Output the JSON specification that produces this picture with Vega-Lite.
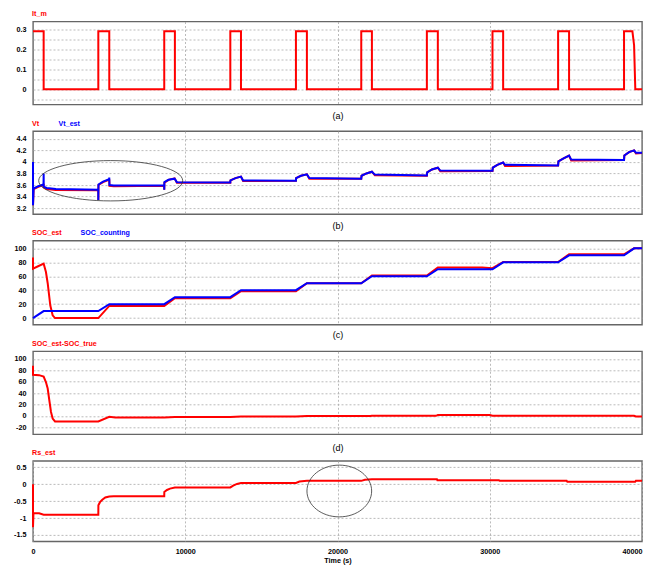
{
  "$schema": "https://vega.github.io/schema/vega-lite/v6.json",
  "padding": {"left": 12, "top": 9.5, "right": 7, "bottom": 1},
  "config": {
    "font": "Liberation Sans",
    "view": {"stroke": "#666", "strokeWidth": 1.4},
    "axis": {"grid": true, "gridColor": "#aaa", "gridDash": [2, 2], "gridWidth": 0.8, "ticks": false, "domain": false, "labelFontSize": 7.2, "labelFontWeight": "bold", "labelColor": "#000"},
    "axisY": {"labelPadding": 7},
    "legend": {"orient": "top", "direction": "horizontal", "title": null, "symbolSize": 0, "symbolOpacity": 0, "symbolStrokeWidth": 0, "labelOffset": -8, "columnPadding": 18.5, "labelFontSize": 7.1, "labelFontWeight": "bold", "offset": 4, "padding": 0},
    "line": {"strokeWidth": 2, "clip": true}
  },
  "datasets": {
    "it": [
      {"t": 0, "v": 0.29, "s": "It_m"}, {"t": 700, "v": 0.29, "s": "It_m"}, {"t": 700, "v": 0, "s": "It_m"},
      {"t": 4290, "v": 0, "s": "It_m"}, {"t": 4290, "v": 0.29, "s": "It_m"}, {"t": 5010, "v": 0.29, "s": "It_m"}, {"t": 5010, "v": 0, "s": "It_m"},
      {"t": 8620, "v": 0, "s": "It_m"}, {"t": 8620, "v": 0.29, "s": "It_m"}, {"t": 9320, "v": 0.29, "s": "It_m"}, {"t": 9320, "v": 0, "s": "It_m"},
      {"t": 12960, "v": 0, "s": "It_m"}, {"t": 12960, "v": 0.29, "s": "It_m"}, {"t": 13660, "v": 0.29, "s": "It_m"}, {"t": 13660, "v": 0, "s": "It_m"},
      {"t": 17270, "v": 0, "s": "It_m"}, {"t": 17270, "v": 0.29, "s": "It_m"}, {"t": 17990, "v": 0.29, "s": "It_m"}, {"t": 17990, "v": 0, "s": "It_m"},
      {"t": 21560, "v": 0, "s": "It_m"}, {"t": 21560, "v": 0.29, "s": "It_m"}, {"t": 22260, "v": 0.29, "s": "It_m"}, {"t": 22260, "v": 0, "s": "It_m"},
      {"t": 25870, "v": 0, "s": "It_m"}, {"t": 25870, "v": 0.29, "s": "It_m"}, {"t": 26590, "v": 0.29, "s": "It_m"}, {"t": 26590, "v": 0, "s": "It_m"},
      {"t": 30180, "v": 0, "s": "It_m"}, {"t": 30180, "v": 0.29, "s": "It_m"}, {"t": 30880, "v": 0.29, "s": "It_m"}, {"t": 30880, "v": 0, "s": "It_m"},
      {"t": 34490, "v": 0, "s": "It_m"}, {"t": 34490, "v": 0.29, "s": "It_m"}, {"t": 35210, "v": 0.29, "s": "It_m"}, {"t": 35210, "v": 0, "s": "It_m"},
      {"t": 38820, "v": 0, "s": "It_m"}, {"t": 38820, "v": 0.29, "s": "It_m"}, {"t": 39370, "v": 0.29, "s": "It_m"}, {"t": 39480, "v": 0.22, "s": "It_m"},
      {"t": 39560, "v": 0, "s": "It_m"}, {"t": 40000, "v": 0, "s": "It_m"}
    ],
    "vt": [
      {"t": 0, "v": 4.0, "s": "Vt"}, {"t": 0, "v": 3.25, "s": "Vt"}, {"t": 40, "v": 3.53, "s": "Vt"}, {"t": 350, "v": 3.57, "s": "Vt"}, {"t": 690, "v": 3.6, "s": "Vt"}, {"t": 700, "v": 3.62, "s": "Vt"}, {"t": 705, "v": 3.56, "s": "Vt"}, {"t": 900, "v": 3.53, "s": "Vt"}, {"t": 1500, "v": 3.515, "s": "Vt"}, {"t": 4290, "v": 3.51, "s": "Vt"},
      {"t": 4290, "v": 3.34, "s": "Vt"}, {"t": 4300, "v": 3.6, "s": "Vt"}, {"t": 4600, "v": 3.65, "s": "Vt"}, {"t": 5000, "v": 3.69, "s": "Vt"}, {"t": 5010, "v": 3.7, "s": "Vt"}, {"t": 5020, "v": 3.585, "s": "Vt"}, {"t": 5300, "v": 3.58, "s": "Vt"}, {"t": 8620, "v": 3.587, "s": "Vt"},
      {"t": 8620, "v": 3.52, "s": "Vt"}, {"t": 8630, "v": 3.64, "s": "Vt"}, {"t": 8900, "v": 3.69, "s": "Vt"}, {"t": 9300, "v": 3.715, "s": "Vt"}, {"t": 9450, "v": 3.64, "s": "Vt"}, {"t": 12960, "v": 3.64, "s": "Vt"},
      {"t": 12970, "v": 3.68, "s": "Vt"}, {"t": 13300, "v": 3.72, "s": "Vt"}, {"t": 13660, "v": 3.745, "s": "Vt"}, {"t": 13800, "v": 3.67, "s": "Vt"}, {"t": 17270, "v": 3.672, "s": "Vt"},
      {"t": 17280, "v": 3.72, "s": "Vt"}, {"t": 17600, "v": 3.76, "s": "Vt"}, {"t": 17990, "v": 3.785, "s": "Vt"}, {"t": 18150, "v": 3.71, "s": "Vt"}, {"t": 21560, "v": 3.707, "s": "Vt"},
      {"t": 21580, "v": 3.76, "s": "Vt"}, {"t": 21900, "v": 3.8, "s": "Vt"}, {"t": 22260, "v": 3.83, "s": "Vt"}, {"t": 22450, "v": 3.77, "s": "Vt"}, {"t": 25870, "v": 3.76, "s": "Vt"},
      {"t": 25890, "v": 3.82, "s": "Vt"}, {"t": 26200, "v": 3.87, "s": "Vt"}, {"t": 26590, "v": 3.9, "s": "Vt"}, {"t": 26750, "v": 3.84, "s": "Vt"}, {"t": 30180, "v": 3.842, "s": "Vt"},
      {"t": 30200, "v": 3.9, "s": "Vt"}, {"t": 30500, "v": 3.95, "s": "Vt"}, {"t": 30880, "v": 3.99, "s": "Vt"}, {"t": 31000, "v": 3.93, "s": "Vt"}, {"t": 34490, "v": 3.937, "s": "Vt"},
      {"t": 34510, "v": 4.01, "s": "Vt"}, {"t": 34850, "v": 4.06, "s": "Vt"}, {"t": 35210, "v": 4.11, "s": "Vt"}, {"t": 35350, "v": 4.025, "s": "Vt"}, {"t": 38820, "v": 4.032, "s": "Vt"},
      {"t": 38840, "v": 4.11, "s": "Vt"}, {"t": 39150, "v": 4.17, "s": "Vt"}, {"t": 39480, "v": 4.2, "s": "Vt"}, {"t": 39600, "v": 4.145, "s": "Vt"}, {"t": 40000, "v": 4.155, "s": "Vt"},
      {"t": 0, "v": 4.0, "s": "Vt_est"}, {"t": 0, "v": 3.25, "s": "Vt_est"}, {"t": 40, "v": 3.54, "s": "Vt_est"}, {"t": 350, "v": 3.58, "s": "Vt_est"}, {"t": 690, "v": 3.61, "s": "Vt_est"}, {"t": 700, "v": 3.8, "s": "Vt_est"}, {"t": 705, "v": 3.57, "s": "Vt_est"}, {"t": 900, "v": 3.55, "s": "Vt_est"}, {"t": 1500, "v": 3.53, "s": "Vt_est"}, {"t": 4290, "v": 3.52, "s": "Vt_est"},
      {"t": 4290, "v": 3.34, "s": "Vt_est"}, {"t": 4300, "v": 3.61, "s": "Vt_est"}, {"t": 4600, "v": 3.66, "s": "Vt_est"}, {"t": 5000, "v": 3.7, "s": "Vt_est"}, {"t": 5010, "v": 3.73, "s": "Vt_est"}, {"t": 5020, "v": 3.6, "s": "Vt_est"}, {"t": 5300, "v": 3.59, "s": "Vt_est"}, {"t": 8620, "v": 3.59, "s": "Vt_est"},
      {"t": 8620, "v": 3.52, "s": "Vt_est"}, {"t": 8630, "v": 3.65, "s": "Vt_est"}, {"t": 8900, "v": 3.69, "s": "Vt_est"}, {"t": 9300, "v": 3.71, "s": "Vt_est"}, {"t": 9450, "v": 3.65, "s": "Vt_est"}, {"t": 12960, "v": 3.645, "s": "Vt_est"},
      {"t": 12970, "v": 3.68, "s": "Vt_est"}, {"t": 13300, "v": 3.72, "s": "Vt_est"}, {"t": 13660, "v": 3.745, "s": "Vt_est"}, {"t": 13800, "v": 3.68, "s": "Vt_est"}, {"t": 17270, "v": 3.675, "s": "Vt_est"},
      {"t": 17280, "v": 3.72, "s": "Vt_est"}, {"t": 17600, "v": 3.76, "s": "Vt_est"}, {"t": 17990, "v": 3.785, "s": "Vt_est"}, {"t": 18150, "v": 3.72, "s": "Vt_est"}, {"t": 21560, "v": 3.71, "s": "Vt_est"},
      {"t": 21580, "v": 3.76, "s": "Vt_est"}, {"t": 21900, "v": 3.8, "s": "Vt_est"}, {"t": 22260, "v": 3.83, "s": "Vt_est"}, {"t": 22450, "v": 3.78, "s": "Vt_est"}, {"t": 25870, "v": 3.765, "s": "Vt_est"},
      {"t": 25890, "v": 3.82, "s": "Vt_est"}, {"t": 26200, "v": 3.87, "s": "Vt_est"}, {"t": 26590, "v": 3.9, "s": "Vt_est"}, {"t": 26750, "v": 3.85, "s": "Vt_est"}, {"t": 30180, "v": 3.845, "s": "Vt_est"},
      {"t": 30200, "v": 3.9, "s": "Vt_est"}, {"t": 30500, "v": 3.95, "s": "Vt_est"}, {"t": 30880, "v": 3.99, "s": "Vt_est"}, {"t": 31000, "v": 3.95, "s": "Vt_est"}, {"t": 34490, "v": 3.94, "s": "Vt_est"},
      {"t": 34510, "v": 4.01, "s": "Vt_est"}, {"t": 34850, "v": 4.06, "s": "Vt_est"}, {"t": 35210, "v": 4.11, "s": "Vt_est"}, {"t": 35350, "v": 4.04, "s": "Vt_est"}, {"t": 38820, "v": 4.035, "s": "Vt_est"},
      {"t": 38840, "v": 4.11, "s": "Vt_est"}, {"t": 39150, "v": 4.17, "s": "Vt_est"}, {"t": 39480, "v": 4.2, "s": "Vt_est"}, {"t": 39600, "v": 4.16, "s": "Vt_est"}, {"t": 40000, "v": 4.16, "s": "Vt_est"}
    ],
    "soc": [
      {"t": 0, "v": 87, "s": "SOC_est"}, {"t": 0, "v": 71, "s": "SOC_est"}, {"t": 300, "v": 74, "s": "SOC_est"}, {"t": 700, "v": 78, "s": "SOC_est"}, {"t": 850, "v": 66, "s": "SOC_est"}, {"t": 965, "v": 50, "s": "SOC_est"}, {"t": 1137, "v": 18, "s": "SOC_est"}, {"t": 1290, "v": 4, "s": "SOC_est"}, {"t": 1445, "v": 0, "s": "SOC_est"},
      {"t": 4290, "v": 0, "s": "SOC_est"}, {"t": 5010, "v": 17.5, "s": "SOC_est"}, {"t": 8620, "v": 17.5, "s": "SOC_est"}, {"t": 9320, "v": 28.5, "s": "SOC_est"}, {"t": 12960, "v": 28.5, "s": "SOC_est"},
      {"t": 13660, "v": 38.5, "s": "SOC_est"}, {"t": 17270, "v": 38.5, "s": "SOC_est"}, {"t": 17990, "v": 50, "s": "SOC_est"}, {"t": 21560, "v": 50, "s": "SOC_est"}, {"t": 22260, "v": 61, "s": "SOC_est"}, {"t": 25870, "v": 61, "s": "SOC_est"},
      {"t": 26590, "v": 72.5, "s": "SOC_est"}, {"t": 29500, "v": 72.5, "s": "SOC_est"}, {"t": 30180, "v": 71.5, "s": "SOC_est"}, {"t": 30880, "v": 80.5, "s": "SOC_est"}, {"t": 34490, "v": 80.5, "s": "SOC_est"},
      {"t": 35210, "v": 91.5, "s": "SOC_est"}, {"t": 38820, "v": 91.5, "s": "SOC_est"}, {"t": 39480, "v": 100, "s": "SOC_est"}, {"t": 40000, "v": 100, "s": "SOC_est"},
      {"t": 0, "v": 0, "s": "SOC_counting"}, {"t": 700, "v": 10, "s": "SOC_counting"}, {"t": 4290, "v": 10, "s": "SOC_counting"}, {"t": 5010, "v": 20, "s": "SOC_counting"}, {"t": 8620, "v": 20, "s": "SOC_counting"},
      {"t": 9320, "v": 30, "s": "SOC_counting"}, {"t": 12960, "v": 30, "s": "SOC_counting"}, {"t": 13660, "v": 40, "s": "SOC_counting"}, {"t": 17270, "v": 40, "s": "SOC_counting"}, {"t": 17990, "v": 50, "s": "SOC_counting"},
      {"t": 21560, "v": 50, "s": "SOC_counting"}, {"t": 22260, "v": 60, "s": "SOC_counting"}, {"t": 25870, "v": 60, "s": "SOC_counting"}, {"t": 26590, "v": 70, "s": "SOC_counting"}, {"t": 30180, "v": 70, "s": "SOC_counting"},
      {"t": 30880, "v": 80, "s": "SOC_counting"}, {"t": 34490, "v": 80, "s": "SOC_counting"}, {"t": 35210, "v": 90, "s": "SOC_counting"}, {"t": 38820, "v": 90, "s": "SOC_counting"}, {"t": 39480, "v": 100, "s": "SOC_counting"}, {"t": 40000, "v": 100, "s": "SOC_counting"}
    ],
    "err": [
      {"t": 0, "v": 88, "s": "SOC_est-SOC_true"}, {"t": 0, "v": 72, "s": "SOC_est-SOC_true"}, {"t": 400, "v": 71.5, "s": "SOC_est-SOC_true"}, {"t": 700, "v": 69, "s": "SOC_est-SOC_true"}, {"t": 853, "v": 59, "s": "SOC_est-SOC_true"},
      {"t": 965, "v": 48, "s": "SOC_est-SOC_true"}, {"t": 1072, "v": 27.5, "s": "SOC_est-SOC_true"}, {"t": 1182, "v": 7, "s": "SOC_est-SOC_true"}, {"t": 1292, "v": -4.6, "s": "SOC_est-SOC_true"}, {"t": 1445, "v": -9.6, "s": "SOC_est-SOC_true"},
      {"t": 4290, "v": -9.6, "s": "SOC_est-SOC_true"}, {"t": 5010, "v": -1.6, "s": "SOC_est-SOC_true"}, {"t": 5400, "v": -2.6, "s": "SOC_est-SOC_true"}, {"t": 8620, "v": -2.6, "s": "SOC_est-SOC_true"}, {"t": 9320, "v": -2, "s": "SOC_est-SOC_true"},
      {"t": 12960, "v": -2, "s": "SOC_est-SOC_true"}, {"t": 13660, "v": -1, "s": "SOC_est-SOC_true"}, {"t": 17270, "v": -1, "s": "SOC_est-SOC_true"}, {"t": 17990, "v": -0.3, "s": "SOC_est-SOC_true"}, {"t": 22150, "v": -0.3, "s": "SOC_est-SOC_true"},
      {"t": 22260, "v": 0.2, "s": "SOC_est-SOC_true"}, {"t": 26460, "v": 0.2, "s": "SOC_est-SOC_true"}, {"t": 26590, "v": 1.6, "s": "SOC_est-SOC_true"}, {"t": 30000, "v": 1.6, "s": "SOC_est-SOC_true"}, {"t": 30180, "v": 0.2, "s": "SOC_est-SOC_true"},
      {"t": 39480, "v": 0.2, "s": "SOC_est-SOC_true"}, {"t": 39600, "v": -1, "s": "SOC_est-SOC_true"}, {"t": 40000, "v": -1, "s": "SOC_est-SOC_true"}
    ],
    "rs": [
      {"t": 0, "v": 0, "s": "Rs_est"}, {"t": 0, "v": -1.27, "s": "Rs_est"}, {"t": 30, "v": -0.85, "s": "Rs_est"}, {"t": 400, "v": -0.86, "s": "Rs_est"}, {"t": 700, "v": -0.9, "s": "Rs_est"}, {"t": 4290, "v": -0.9, "s": "Rs_est"},
      {"t": 4295, "v": -0.62, "s": "Rs_est"}, {"t": 4400, "v": -0.53, "s": "Rs_est"}, {"t": 4550, "v": -0.46, "s": "Rs_est"}, {"t": 4750, "v": -0.39, "s": "Rs_est"}, {"t": 5010, "v": -0.36, "s": "Rs_est"}, {"t": 5300, "v": -0.355, "s": "Rs_est"}, {"t": 8620, "v": -0.355, "s": "Rs_est"},
      {"t": 8625, "v": -0.23, "s": "Rs_est"}, {"t": 8800, "v": -0.17, "s": "Rs_est"}, {"t": 9000, "v": -0.13, "s": "Rs_est"}, {"t": 9320, "v": -0.1, "s": "Rs_est"}, {"t": 12960, "v": -0.095, "s": "Rs_est"},
      {"t": 13150, "v": -0.04, "s": "Rs_est"}, {"t": 13400, "v": 0.01, "s": "Rs_est"}, {"t": 13660, "v": 0.035, "s": "Rs_est"}, {"t": 17270, "v": 0.04, "s": "Rs_est"}, {"t": 17500, "v": 0.08, "s": "Rs_est"}, {"t": 17990, "v": 0.1, "s": "Rs_est"},
      {"t": 21560, "v": 0.1, "s": "Rs_est"}, {"t": 21800, "v": 0.13, "s": "Rs_est"}, {"t": 22260, "v": 0.15, "s": "Rs_est"}, {"t": 26530, "v": 0.15, "s": "Rs_est"}, {"t": 26560, "v": 0.12, "s": "Rs_est"}, {"t": 30600, "v": 0.12, "s": "Rs_est"},
      {"t": 30650, "v": 0.1, "s": "Rs_est"}, {"t": 35050, "v": 0.1, "s": "Rs_est"}, {"t": 35100, "v": 0.07, "s": "Rs_est"}, {"t": 39550, "v": 0.07, "s": "Rs_est"}, {"t": 39600, "v": 0.1, "s": "Rs_est"}, {"t": 40000, "v": 0.1, "s": "Rs_est"}
    ]
  },
  "spacing": 26.6,
  "bounds": "flush",
  "resolve": {"scale": {"x": "independent", "y": "independent", "color": "independent"}, "legend": {"color": "independent"}},
  "vconcat": [
    {
      "width": 609, "height": 83,
      "data": {"name": "it"},
      "mark": {"type": "line"},
      "encoding": {
        "x": {"field": "t", "type": "quantitative", "scale": {"domain": [0, 40000], "nice": false}, "axis": {"labels": false, "values": [10000, 20000, 30000], "title": "(a)", "titleFontWeight": "normal", "titleFontSize": 9, "titlePadding": 6.5}},
        "y": {"field": "v", "type": "quantitative", "scale": {"domain": [-0.077, 0.339], "nice": false, "zero": false}, "axis": {"title": null, "values": [-0.05, 0, 0.05, 0.1, 0.15, 0.2, 0.25, 0.3], "labelExpr": "indexof([0, 0.1, 0.2, 0.3], datum.value) >= 0 ? '' + datum.value : ''"}},
        "color": {"field": "s", "type": "nominal", "scale": {"domain": ["It_m"], "range": ["#ff0000"]}, "legend": {"labelColor": "#ff0000"}},
        "order": {"value": null}
      }
    },
    {
      "width": 609, "height": 83,
      "encoding": {
        "x": {"field": "t", "type": "quantitative", "scale": {"domain": [0, 40000], "nice": false}, "axis": {"labels": false, "values": [10000, 20000, 30000], "title": "(b)", "titleFontWeight": "normal", "titleFontSize": 9, "titlePadding": 7.5}},
        "y": {"field": "v", "type": "quantitative", "scale": {"domain": [3.097, 4.533], "nice": false, "zero": false}, "axis": {"title": null, "values": [3.2, 3.4, 3.6, 3.8, 4, 4.2, 4.4], "labelExpr": "'' + datum.value"}}
      },
      "layer": [
        {
          "data": {"name": "vt"}, "transform": [{"filter": "datum.s == 'Vt'"}],
          "mark": {"type": "line"},
          "encoding": {
            "color": {"field": "s", "type": "nominal", "scale": {"domain": ["Vt", "Vt_est"], "range": ["#ff0000", "#0000ff"]}, "legend": {"labelColor": {"expr": "datum.value == 'Vt' ? '#ff0000' : '#0000ff'"}}},
            "order": {"value": null}
          }
        },
        {
          "data": {"name": "vt"}, "transform": [{"filter": "datum.s == 'Vt_est'"}],
          "mark": {"type": "line"},
          "encoding": {
            "color": {"field": "s", "type": "nominal", "scale": {"domain": ["Vt", "Vt_est"], "range": ["#ff0000", "#0000ff"]}, "legend": {"labelColor": {"expr": "datum.value == 'Vt' ? '#ff0000' : '#0000ff'"}}},
            "order": {"value": null}
          }
        },
        {
          "data": {"values": [{"t": 5103, "v": 3.674}]},
          "mark": {"type": "point", "shape": "M -1 0 A 1 0.28 0 1 0 1 0 A 1 0.28 0 1 0 -1 0 Z", "size": 20736, "filled": false, "stroke": "#333", "strokeWidth": 0.8, "opacity": 1}
        }
      ]
    },
    {
      "width": 609, "height": 84,
      "encoding": {
        "x": {"field": "t", "type": "quantitative", "scale": {"domain": [0, 40000], "nice": false}, "axis": {"labels": false, "values": [10000, 20000, 30000], "title": "(c)", "titleFontWeight": "normal", "titleFontSize": 9, "titlePadding": 6}},
        "y": {"field": "v", "type": "quantitative", "scale": {"domain": [-9.5, 111], "nice": false, "zero": false}, "axis": {"title": null, "values": [0, 20, 40, 60, 80, 100], "labelExpr": "'' + datum.value"}}
      },
      "layer": [
        {
          "data": {"name": "soc"}, "transform": [{"filter": "datum.s == 'SOC_est'"}],
          "mark": {"type": "line"},
          "encoding": {
            "color": {"field": "s", "type": "nominal", "scale": {"domain": ["SOC_est", "SOC_counting"], "range": ["#ff0000", "#0000ff"]}, "legend": {"labelColor": {"expr": "datum.value == 'SOC_est' ? '#ff0000' : '#0000ff'"}}},
            "order": {"value": null}
          }
        },
        {
          "data": {"name": "soc"}, "transform": [{"filter": "datum.s == 'SOC_counting'"}],
          "mark": {"type": "line"},
          "encoding": {
            "color": {"field": "s", "type": "nominal", "scale": {"domain": ["SOC_est", "SOC_counting"], "range": ["#ff0000", "#0000ff"]}, "legend": {"labelColor": {"expr": "datum.value == 'SOC_est' ? '#ff0000' : '#0000ff'"}}},
            "order": {"value": null}
          }
        }
      ]
    },
    {
      "width": 609, "height": 83,
      "data": {"name": "err"},
      "mark": {"type": "line"},
      "encoding": {
        "x": {"field": "t", "type": "quantitative", "scale": {"domain": [0, 40000], "nice": false}, "axis": {"labels": false, "values": [10000, 20000, 30000], "title": "(d)", "titleFontWeight": "normal", "titleFontSize": 9, "titlePadding": 9.5}},
        "y": {"field": "v", "type": "quantitative", "scale": {"domain": [-32.2, 113.3], "nice": false, "zero": false}, "axis": {"title": null, "values": [-20, 0, 20, 40, 60, 80, 100], "labelExpr": "'' + datum.value"}},
        "color": {"field": "s", "type": "nominal", "scale": {"domain": ["SOC_est-SOC_true"], "range": ["#ff0000"]}, "legend": {"labelColor": "#ff0000"}},
        "order": {"value": null}
      }
    },
    {
      "width": 609, "height": 80.5,
      "encoding": {
        "x": {"field": "t", "type": "quantitative", "scale": {"domain": [0, 40000], "nice": false}, "axis": {"values": [0, 10000, 20000, 30000, 40000], "labelExpr": "'' + datum.value", "labelPadding": 6, "labelAlign": {"condition": {"test": "datum.value == 40000", "value": "right"}, "value": "center"}, "title": "Time (s)", "titleFontSize": 7.2, "titleFontWeight": "bold", "titlePadding": 2}},
        "y": {"field": "v", "type": "quantitative", "scale": {"domain": [-1.69, 0.69], "nice": false, "zero": false}, "axis": {"title": null, "values": [-1.5, -1, -0.5, 0, 0.5], "labelExpr": "'' + datum.value"}}
      },
      "layer": [
        {
          "data": {"name": "rs"},
          "mark": {"type": "line"},
          "encoding": {
            "color": {"field": "s", "type": "nominal", "scale": {"domain": ["Rs_est"], "range": ["#ff0000"]}, "legend": {"labelColor": "#ff0000"}},
            "order": {"value": null}
          }
        },
        {
          "data": {"values": [{"t": 20118, "v": -0.2}]},
          "mark": {"type": "point", "shape": "M -1 0 A 1 0.8 0 1 0 1 0 A 1 0.8 0 1 0 -1 0 Z", "size": 4186, "filled": false, "stroke": "#333", "strokeWidth": 0.8, "opacity": 1}
        }
      ]
    }
  ]
}
